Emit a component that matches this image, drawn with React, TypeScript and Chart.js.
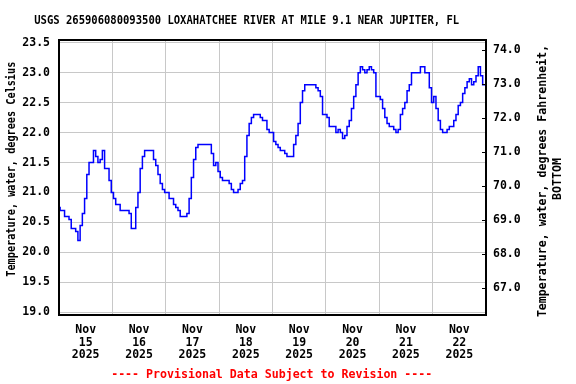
import { useEffect, useRef } from "react";
import { Chart, registerables } from "chart.js";

Chart.register(...registerables);

const TITLE = "USGS 265906080093500 LOXAHATCHEE RIVER AT MILE 9.1 NEAR JUPITER, FL";
const FOOTER = "---- Provisional Data Subject to Revision ----";
const LEFT_TITLE = "Temperature, water, degrees Celsius";
const RIGHT_TITLE = ["Temperature, water, degrees Fahrenheit,", "BOTTOM"];

// Day labels (one per day, Nov 15 .. Nov 22, 2025)
const DAY_LABELS = [
  ["Nov", "15", "2025"],
  ["Nov", "16", "2025"],
  ["Nov", "17", "2025"],
  ["Nov", "18", "2025"],
  ["Nov", "19", "2025"],
  ["Nov", "20", "2025"],
  ["Nov", "21", "2025"],
  ["Nov", "22", "2025"],
];

const C_TICKS = [19.0, 19.5, 20.0, 20.5, 21.0, 21.5, 22.0, 22.5, 23.0, 23.5];
const F_TICKS = [67, 68, 69, 70, 71, 72, 73, 74];

// Hourly water temperature (deg C), starting Nov 15 00:00
const nov15 = [20.75, 20.7, 20.7, 20.6, 20.6, 20.55, 20.4, 20.4, 20.35, 20.2, 20.45, 20.65, 20.9, 21.3, 21.5, 21.5, 21.7, 21.6, 21.5, 21.55, 21.7, 21.4, 21.4, 21.2];
const nov16 = [21.0, 20.9, 20.8, 20.8, 20.7, 20.7, 20.7, 20.7, 20.65, 20.4, 20.4, 20.75, 21.0, 21.4, 21.6, 21.7, 21.7, 21.7, 21.7, 21.55, 21.45, 21.3, 21.15, 21.05];
const nov17 = [21.0, 21.0, 20.9, 20.9, 20.8, 20.75, 20.7, 20.6, 20.6, 20.6, 20.65, 20.9, 21.25, 21.55, 21.75, 21.8, 21.8, 21.8, 21.8, 21.8, 21.8, 21.65, 21.45, 21.5];
const nov18 = [21.35, 21.25, 21.2, 21.2, 21.2, 21.15, 21.05, 21.0, 21.0, 21.05, 21.15, 21.2, 21.6, 21.95, 22.15, 22.25, 22.3, 22.3, 22.3, 22.25, 22.2, 22.2, 22.05, 22.0];
const nov19 = [22.0, 21.85, 21.8, 21.75, 21.7, 21.7, 21.65, 21.6, 21.6, 21.6, 21.8, 21.95, 22.15, 22.5, 22.7, 22.8, 22.8, 22.8, 22.8, 22.8, 22.75, 22.7, 22.6, 22.3];
const nov20 = [22.3, 22.25, 22.1, 22.1, 22.1, 22.0, 22.05, 22.0, 21.9, 21.95, 22.1, 22.2, 22.4, 22.6, 22.8, 23.0, 23.1, 23.05, 23.0, 23.05, 23.1, 23.05, 23.0, 22.6];
const nov21 = [22.6, 22.55, 22.4, 22.25, 22.15, 22.1, 22.1, 22.05, 22.0, 22.05, 22.3, 22.4, 22.5, 22.7, 22.8, 23.0, 23.0, 23.0, 23.0, 23.1, 23.1, 23.0, 23.0, 22.75];
const nov22 = [22.5, 22.6, 22.4, 22.2, 22.05, 22.0, 22.0, 22.05, 22.1, 22.1, 22.2, 22.3, 22.45, 22.5, 22.65, 22.75, 22.85, 22.9, 22.8, 22.85, 22.95, 23.1, 22.95, 22.8];
const nov23 = [22.8];

const TEMPS = [...nov15, ...nov16, ...nov17, ...nov18, ...nov19, ...nov20, ...nov21, ...nov22, ...nov23];

const FONT = "'DejaVu Sans Mono', monospace";
const GRID = "rgb(200,200,200)";

function drawScaledText(ctx: any, text: string, x: number, y: number, size: number, sx: number, rot: number) {
  ctx.save();
  ctx.translate(x, y);
  if (rot) ctx.rotate(rot);
  ctx.scale(sx, 1);
  ctx.font = `bold ${size}px ${FONT}`;
  ctx.fillText(text, 0, 0);
  ctx.restore();
}

const textPlugin = {
  id: "usgsText",
  afterDraw(chart: any) {
    const { ctx, chartArea: a } = chart;
    ctx.save();
    // plot border
    ctx.strokeStyle = "#000";
    ctx.lineWidth = 2;
    ctx.strokeRect(a.left, a.top, a.right - a.left, a.bottom - a.top);
    // inward ticks on right (Fahrenheit) axis
    const y2 = chart.scales.y2;
    ctx.lineWidth = 1;
    for (const f of F_TICKS) {
      const py = Math.round(y2.getPixelForValue(f)) + 0.5;
      ctx.beginPath();
      ctx.moveTo(a.right - 4, py);
      ctx.lineTo(a.right, py);
      ctx.stroke();
    }
    ctx.fillStyle = "#000";
    ctx.textAlign = "center";
    ctx.textBaseline = "middle";
    // main title
    drawScaledText(ctx, TITLE, 246.7, 21, 11.5, 0.916, 0);
    // left axis title
    drawScaledText(ctx, LEFT_TITLE, 11.7, 169.2, 11.5, 0.887, -Math.PI / 2);
    // right axis title
    drawScaledText(ctx, RIGHT_TITLE[0], 543.3, 181, 11.6, 1, -Math.PI / 2);
    drawScaledText(ctx, RIGHT_TITLE[1], 558.3, 179, 11.6, 1, -Math.PI / 2);
    // footer
    ctx.fillStyle = "#ff0000";
    drawScaledText(ctx, FOOTER, 271.7, 374.5, 11.6, 1, 0);
    ctx.restore();
  },
};

export default function App() {
  const ref = useRef<HTMLCanvasElement>(null);
  useEffect(() => {
    document.body.style.margin = "0";
    const canvas = ref.current!;
    const tickFont = { family: FONT, size: 11.5, weight: "bold" as const };
    const hoursTotal = TEMPS.length - 1;
    const gridHours = DAY_LABELS.slice(1).map((_, i) => (i + 1) * 24);
    const noonHours = DAY_LABELS.map((_, i) => i * 24 + 12);
    const chart = new Chart(canvas, {
      type: "line",
      data: {
        datasets: [
          {
            data: TEMPS.map((v, i) => ({ x: i, y: v })),
            borderColor: "#0000ff",
            borderWidth: 1.5,
            pointRadius: 0,
            stepped: "middle",
            fill: false,
            xAxisID: "x",
            yAxisID: "y",
          },
        ],
      },
      options: {
        animation: false,
        responsive: false,
        devicePixelRatio: 1,
        layout: { padding: { top: 40, left: 0, right: 0, bottom: 0 } },
        plugins: {
          legend: { display: false },
          tooltip: { enabled: false },
          title: { display: false },
        },
        scales: {
          x: {
            type: "linear",
            position: "bottom",
            min: 0,
            max: hoursTotal,
            afterBuildTicks: (s: any) => {
              s.ticks = gridHours.map((v) => ({ value: v }));
            },
            grid: { color: GRID, lineWidth: 1, drawTicks: false },
            border: { display: false },
            ticks: { display: false },
            afterFit: (s: any) => {
              s.height = 0;
            },
          },
          x2: {
            type: "linear",
            position: "bottom",
            min: 0,
            max: hoursTotal,
            afterBuildTicks: (s: any) => {
              s.ticks = noonHours.map((v) => ({ value: v }));
            },
            grid: { display: false, drawTicks: false },
            border: { display: false },
            ticks: {
              autoSkip: false,
              maxRotation: 0,
              padding: 9,
              color: "#000",
              font: { ...tickFont, lineHeight: 12.5 / 11.5 },
              callback: (_v: any, i: number) => DAY_LABELS[i],
            },
            afterFit: (s: any) => {
              s.height = 69;
            },
          },
          y: {
            type: "linear",
            position: "left",
            min: 18.955,
            max: 23.545,
            afterBuildTicks: (s: any) => {
              s.ticks = C_TICKS.map((v) => ({ value: v }));
            },
            grid: { color: GRID, lineWidth: 1, drawTicks: false },
            border: { display: false },
            ticks: {
              padding: 9,
              color: "#000",
              font: tickFont,
              callback: (v: any) => Number(v).toFixed(1),
            },
            afterFit: (s: any) => {
              s.width = 59;
            },
          },
          y2: {
            type: "linear",
            position: "right",
            min: 66.2,
            max: 74.3,
            afterBuildTicks: (s: any) => {
              s.ticks = F_TICKS.map((v) => ({ value: v }));
            },
            grid: { display: false, drawTicks: false },
            border: { display: false },
            ticks: {
              padding: 7,
              color: "#000",
              font: tickFont,
              callback: (v: any) => Number(v).toFixed(1),
            },
            afterFit: (s: any) => {
              s.width = 90;
            },
          },
        },
      },
      plugins: [textPlugin],
    });
    return () => chart.destroy();
  }, []);
  return (
    <canvas
      ref={ref}
      width={576}
      height={384}
      style={{ display: "block", width: 576, height: 384 }}
    />
  );
}
